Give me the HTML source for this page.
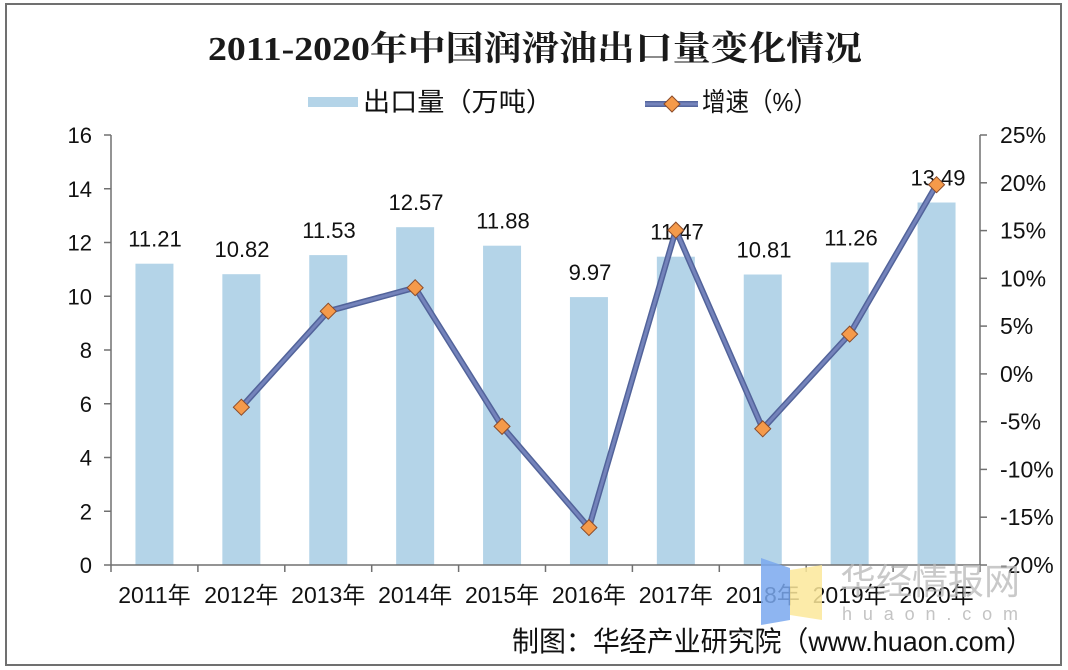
<!DOCTYPE html>
<html><head><meta charset="utf-8"><style>
html,body{margin:0;padding:0;background:#fff;}
svg{display:block;}
text{font-family:"Liberation Sans","Noto Sans CJK SC",sans-serif;fill:#111;}
</style></head><body>
<svg width="1068" height="670" viewBox="0 0 1068 670" xmlns="http://www.w3.org/2000/svg">
<rect x="0" y="0" width="1068" height="670" fill="#fff"/>
<rect x="6" y="4" width="1055" height="661" fill="#fff" stroke="#707070" stroke-width="2"/>
<!-- title -->
<text x="208" y="60" font-size="34" font-weight="bold" textLength="654" lengthAdjust="spacingAndGlyphs" style="font-family:'Liberation Serif','Noto Serif CJK SC',serif;fill:#1a1a1a">2011-2020年中国润滑油出口量变化情况</text>
<!-- legend -->
<rect x="308" y="97" width="50" height="10" fill="#b4d4e8"/>
<text x="363" y="111" font-size="26" textLength="190" lengthAdjust="spacingAndGlyphs">出口量（万吨）</text>
<line x1="645" y1="104" x2="698" y2="104" stroke="#56679e" stroke-width="6"/>
<line x1="645" y1="104" x2="698" y2="104" stroke="#7483bb" stroke-width="3"/>
<polygon points="672,96 680,104 672,112 664,104" fill="#f59a4a" stroke="#8a4b2a" stroke-width="1"/>
<text x="702" y="111" font-size="26" textLength="115" lengthAdjust="spacingAndGlyphs">增速（%）</text>
<!-- bars -->
<g fill="#b4d4e8">
<rect x="135.45" y="263.7" width="38" height="301.3"/>
<rect x="222.35" y="274.2" width="38" height="290.8"/>
<rect x="309.25" y="255.1" width="38" height="309.9"/>
<rect x="396.15" y="227.2" width="38" height="337.8"/>
<rect x="483.05" y="245.7" width="38" height="319.3"/>
<rect x="569.95" y="297.1" width="38" height="267.9"/>
<rect x="656.85" y="256.7" width="38" height="308.3"/>
<rect x="743.75" y="274.5" width="38" height="290.5"/>
<rect x="830.65" y="262.4" width="38" height="302.6"/>
<rect x="917.55" y="202.5" width="38" height="362.5"/>
</g>
<!-- axes -->
<g stroke="#707070" stroke-width="1.5" fill="none">
<line x1="111" y1="135" x2="111" y2="565"/>
<line x1="980" y1="135" x2="980" y2="565"/>
<line x1="111" y1="565" x2="980" y2="565"/>
<line x1="104" y1="135" x2="111" y2="135"/>
<line x1="104" y1="188.75" x2="111" y2="188.75"/>
<line x1="104" y1="242.5" x2="111" y2="242.5"/>
<line x1="104" y1="296.25" x2="111" y2="296.25"/>
<line x1="104" y1="350" x2="111" y2="350"/>
<line x1="104" y1="403.75" x2="111" y2="403.75"/>
<line x1="104" y1="457.5" x2="111" y2="457.5"/>
<line x1="104" y1="511.25" x2="111" y2="511.25"/>
<line x1="104" y1="565" x2="111" y2="565"/>
<line x1="980" y1="135" x2="987" y2="135"/>
<line x1="980" y1="182.8" x2="987" y2="182.8"/>
<line x1="980" y1="230.6" x2="987" y2="230.6"/>
<line x1="980" y1="278.3" x2="987" y2="278.3"/>
<line x1="980" y1="326.1" x2="987" y2="326.1"/>
<line x1="980" y1="373.9" x2="987" y2="373.9"/>
<line x1="980" y1="421.7" x2="987" y2="421.7"/>
<line x1="980" y1="469.4" x2="987" y2="469.4"/>
<line x1="980" y1="517.2" x2="987" y2="517.2"/>
<line x1="980" y1="565" x2="987" y2="565"/>
<line x1="111" y1="565" x2="111" y2="572"/>
<line x1="197.9" y1="565" x2="197.9" y2="572"/>
<line x1="284.8" y1="565" x2="284.8" y2="572"/>
<line x1="371.7" y1="565" x2="371.7" y2="572"/>
<line x1="458.6" y1="565" x2="458.6" y2="572"/>
<line x1="545.5" y1="565" x2="545.5" y2="572"/>
<line x1="632.4" y1="565" x2="632.4" y2="572"/>
<line x1="719.3" y1="565" x2="719.3" y2="572"/>
<line x1="806.2" y1="565" x2="806.2" y2="572"/>
<line x1="893.1" y1="565" x2="893.1" y2="572"/>
<line x1="980" y1="565" x2="980" y2="572"/>
</g>
<!-- left labels -->
<g font-size="22" text-anchor="end">
<text x="92" y="143">16</text>
<text x="92" y="196.75">14</text>
<text x="92" y="250.5">12</text>
<text x="92" y="304.25">10</text>
<text x="92" y="358">8</text>
<text x="92" y="411.75">6</text>
<text x="92" y="465.5">4</text>
<text x="92" y="519.25">2</text>
<text x="92" y="573">0</text>
</g>
<!-- right labels -->
<g font-size="23">
<text x="1000" y="143">25%</text>
<text x="1000" y="190.8">20%</text>
<text x="1000" y="238.6">15%</text>
<text x="1000" y="286.3">10%</text>
<text x="1000" y="334.1">5%</text>
<text x="1000" y="381.9">0%</text>
<text x="1000" y="429.7">-5%</text>
<text x="1000" y="477.4">-10%</text>
<text x="1000" y="525.2">-15%</text>
<text x="1000" y="573">-20%</text>
</g>
<!-- x labels -->
<g font-size="23" text-anchor="middle">
<text x="154.45" y="603">2011年</text>
<text x="241.35" y="603">2012年</text>
<text x="328.25" y="603">2013年</text>
<text x="415.15" y="603">2014年</text>
<text x="502.05" y="603">2015年</text>
<text x="588.95" y="603">2016年</text>
<text x="675.85" y="603">2017年</text>
<text x="762.75" y="603">2018年</text>
<text x="849.65" y="603">2019年</text>
<text x="936.55" y="603">2020年</text>
</g>
<!-- data labels -->
<g font-size="22" text-anchor="middle">
<text x="155" y="246.7">11.21</text>
<text x="242" y="257.2">10.82</text>
<text x="329" y="238.1">11.53</text>
<text x="416" y="210.2">12.57</text>
<text x="503" y="228.7">11.88</text>
<text x="590" y="280.1">9.97</text>
<text x="677" y="239.7">11.47</text>
<text x="764" y="257.5">10.81</text>
<text x="851" y="245.4">11.26</text>
<text x="938" y="185.5">13.49</text>
</g>
<!-- line -->
<polyline points="241.35,407.2 328.25,311.2 415.15,287.7 502.05,426.4 588.95,527.6 675.85,230.1 762.75,428.8 849.65,334.1 936.55,184.7" fill="none" stroke="#52639a" stroke-width="6" stroke-linejoin="round"/>
<polyline points="241.35,407.2 328.25,311.2 415.15,287.7 502.05,426.4 588.95,527.6 675.85,230.1 762.75,428.8 849.65,334.1 936.55,184.7" fill="none" stroke="#7483bb" stroke-width="3" stroke-linejoin="round"/>
<g fill="#f59a4a" stroke="#8a4b2a" stroke-width="1">
<polygon points="241.35,399.2 249.35,407.2 241.35,415.2 233.35,407.2"/>
<polygon points="328.25,303.2 336.25,311.2 328.25,319.2 320.25,311.2"/>
<polygon points="415.15,279.7 423.15,287.7 415.15,295.7 407.15,287.7"/>
<polygon points="502.05,418.4 510.05,426.4 502.05,434.4 494.05,426.4"/>
<polygon points="588.95,519.6 596.95,527.6 588.95,535.6 580.95,527.6"/>
<polygon points="675.85,222.1 683.85,230.1 675.85,238.1 667.85,230.1"/>
<polygon points="762.75,420.8 770.75,428.8 762.75,436.8 754.75,428.8"/>
<polygon points="849.65,326.1 857.65,334.1 849.65,342.1 841.65,334.1"/>
<polygon points="936.55,176.7 944.55,184.7 936.55,192.7 928.55,184.7"/>
</g>
<!-- watermark -->
<polygon points="761,558 790,568 790,620 761,625" fill="#7aa8ee" opacity="0.85"/>
<polygon points="790,570 822,565 822,620 790,615" fill="#fbe79a" opacity="0.85"/>
<text x="840" y="594" font-size="36" textLength="180" lengthAdjust="spacingAndGlyphs" style="fill:#b8b8b8;opacity:0.75">华经情报网</text>
<text x="842" y="620" font-size="18" textLength="176" lengthAdjust="spacing" style="fill:#c4c4c4">huaon.com</text>
<!-- footer -->
<text x="512" y="651" font-size="28" textLength="521" lengthAdjust="spacingAndGlyphs">制图：华经产业研究院（www.huaon.com）</text>
</svg>
</body></html>
